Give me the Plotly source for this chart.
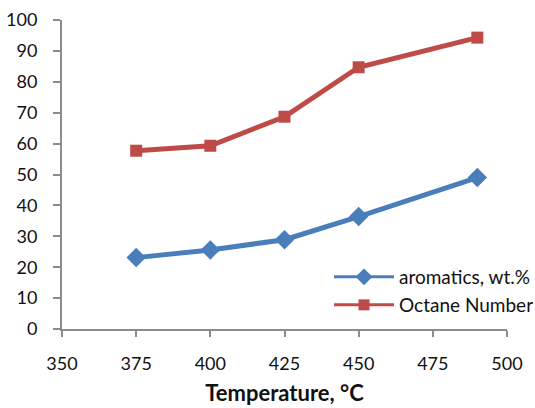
import plotly.graph_objects as go

temperature = [375, 400, 425, 450, 490]
aromatics = [23.1, 25.6, 28.9, 36.4, 49.0]
octane_number = [57.7, 59.3, 68.7, 84.7, 94.3]

x_ticks = [350, 375, 400, 425, 450, 475, 500]
y_ticks = list(range(0, 101, 10))

blue = "#4A7EBB"
red = "#BE4B48"
axis_grey = "#8C8C8C"
font_family = "Lato, Open Sans, Liberation Sans, sans-serif"

fig = go.Figure()

# Data traces (thick lines, full-size markers)
fig.add_trace(go.Scatter(
    x=temperature, y=aromatics, mode="lines+markers",
    line=dict(color=blue, width=5),
    marker=dict(symbol="diamond", size=15, color=blue),
    showlegend=False,
))
fig.add_trace(go.Scatter(
    x=temperature, y=octane_number, mode="lines+markers",
    line=dict(color=red, width=5),
    marker=dict(symbol="square", size=12, color=red),
    showlegend=False,
))

# Legend entries with thinner lines, each in its own legend box
fig.add_trace(go.Scatter(
    x=[None], y=[None], mode="lines+markers", name="aromatics, wt.%",
    line=dict(color=blue, width=3),
    marker=dict(symbol="diamond", size=13, color=blue),
    legend="legend",
))
fig.add_trace(go.Scatter(
    x=[None], y=[None], mode="lines+markers", name="Octane Number",
    line=dict(color=red, width=3),
    marker=dict(symbol="square", size=11, color=red),
    legend="legend2",
))

legend_style = dict(
    xanchor="left", yanchor="middle",
    bgcolor="rgba(0,0,0,0)", font=dict(size=19),
    itemwidth=60,
)

fig.update_layout(
    width=535, height=408,
    margin=dict(l=62, r=28, t=20, b=79, autoexpand=False),
    paper_bgcolor="white", plot_bgcolor="white",
    font=dict(family=font_family, size=18, color="#111111"),
    legend=dict(x=0.60, y=(329 - 277) / 309, **legend_style),
    legend2=dict(x=0.60, y=(329 - 305) / 309, **legend_style),
)

fig.update_xaxes(
    range=[350, 500], tickvals=x_ticks, ticktext=[str(v) for v in x_ticks],
    showgrid=False, zeroline=False, automargin=False,
    showline=True, linecolor=axis_grey, linewidth=2,
    ticks="outside", ticklen=6, tickwidth=2, tickcolor=axis_grey,
    ticklabelstandoff=11,
    title=dict(text="<b>Temperature, °C</b>", font=dict(size=22), standoff=13),
)
fig.update_yaxes(
    range=[0, 100], tickvals=y_ticks, ticktext=[str(v) for v in y_ticks],
    showgrid=False, zeroline=False, automargin=False,
    showline=True, linecolor=axis_grey, linewidth=2,
    ticks="outside", ticklen=7, tickwidth=2, tickcolor=axis_grey,
    ticklabelstandoff=12,
)

fig.write_html("out.html")
